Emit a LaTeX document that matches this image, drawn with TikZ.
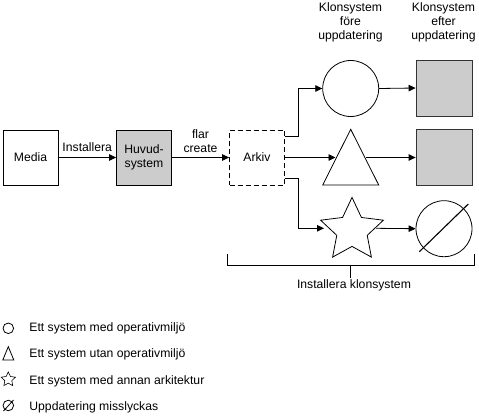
\documentclass[tikz,border=0pt]{standalone}
\usepackage{fontspec}
\setmainfont{Liberation Sans}
\usetikzlibrary{arrows.meta,calc}
\begin{document}
\begin{tikzpicture}[x=1pt,y=-1pt,
  line width=0.8pt,
  every node/.style={font=\fontsize{12.2}{14}\selectfont},
  box/.style={draw, minimum width=55, minimum height=55, inner sep=0, align=center},
  grey/.style={fill=gray!40},
  dashbox/.style={dash pattern=on 5pt off 3pt},
  arr/.style={-{Triangle[length=7pt,width=6.5pt]}},
  lbl/.style={align=center, inner sep=0}
]
\useasboundingbox (0,0) rectangle (479,415);

% main chain
\node[box] (media) at (30.5,157.5) {Media};
\node[box,grey] (huvud) at (144,157.5) {Huvud-\\system};
\node[box,dashbox] (arkiv) at (257,157.5) {Arkiv};
\draw[arr] (media) -- node[lbl, above=5pt] {Installera} (huvud);
\draw[arr] (huvud) -- node[lbl, above=4pt] {flar\\create} (arkiv);

% headers
\node[lbl] (h1) at (350.5,22.5) {Klonsystem\\före\\uppdatering};
\node[lbl] (h2) at (443.5,22.5) {Klonsystem\\efter\\uppdatering};

% clone shapes
\node[draw, circle, minimum size=56, inner sep=0] (circ) at (350.7,88.5) {};
\node[box,grey, minimum width=56, minimum height=56, draw=black!80] (sq1) at (444,88) {};
\node[box,grey, minimum width=56, minimum height=56, draw=black!80] (sq2) at (444,157.5) {};
\draw (350.7,129.3) -- (378.7,185) -- (322.7,185) -- cycle;
\coordinate (triL) at (335.5,157.5);
\coordinate (triR) at (366,157.5);
\draw[shift={(352,230.4)}] (-90:33) -- (-54:16) -- (-18:33) -- (18:16) -- (54:33)
  -- (90:16) -- (126:33) -- (162:16) -- (198:33) -- (234:16) -- cycle;
\coordinate (starL) at (324,228.3);
\coordinate (starR) at (376,228.3);
\node[draw, circle, minimum size=56, inner sep=0] (fail) at (444,228.7) {};
\draw[line width=1.1pt] (419.3,251.7) -- (468.3,204);

% branches
\coordinate (b1) at (298.3,136);
\coordinate (b3) at (298.3,178.5);
\draw[arr] (arkiv.east |- b1) -- (b1) |- (circ.west);
\draw[arr] (arkiv.east) -- (triL);
\draw[arr] (arkiv.east |- b3) -- (b3) |- (starL);
\draw[arr] (circ.east) -- (sq1.west);
\draw[arr] (triR) -- (sq2.west);
\draw[arr] (starR) -- (fail.west);

% brace
\coordinate (brL) at (227,254);
\coordinate (brR) at (474,254);
\coordinate (brM) at (350.7,265.7);
\draw (brL) -- (brL |- brM) -- (brR |- brM) -- (brR);
\draw (brM) -- ++(0,12);
\node[lbl] (inst) at (354,285.5) {Installera klonsystem};

% legend
\draw (8.3,328.3) circle[radius=5.3];
\draw (8.3,346.7) -- (13.8,360) -- (2.8,360) -- cycle;
\draw[shift={(8.3,379.5)}, line width=0.6pt] (-90:7.5) -- (-54:3.7) -- (-18:7.5) -- (18:3.7) -- (54:7.5)
  -- (90:3.7) -- (126:7.5) -- (162:3.7) -- (198:7.5) -- (234:3.7) -- cycle;
\draw (8.3,405.5) circle[radius=5.3];
\draw (3.5,411) -- (13.5,400);
\node[anchor=west, inner sep=0] (l1) at (29,328.3) {Ett system med operativmiljö};
\node[anchor=west, inner sep=0] (l2) at (29,354.5) {Ett system utan operativmiljö};
\node[anchor=west, inner sep=0] (l3) at (29,381) {Ett system med annan arkitektur};
\node[anchor=west, inner sep=0] (l4) at (29,407.5) {Uppdatering misslyckas};
\end{tikzpicture}
\end{document}
